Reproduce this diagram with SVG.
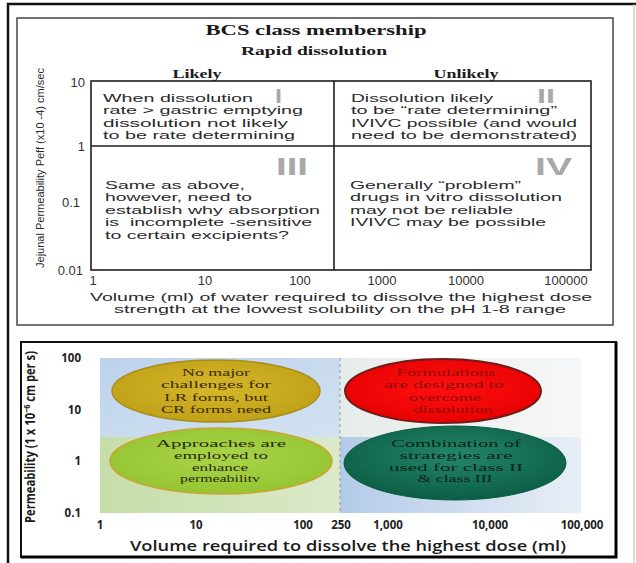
<svg xmlns="http://www.w3.org/2000/svg" width="636" height="563" viewBox="0 0 636 563">
<style>
.ser{font-family:"Liberation Serif","DejaVu Serif",serif;font-weight:bold;fill:#1a1a1a;text-anchor:middle}
.cell{font-family:"Liberation Sans",Arial,sans-serif;font-size:11px;fill:#2a2a2a}
.tick{font-family:"Liberation Sans",Arial,sans-serif;font-size:13px;fill:#333}
.rom{font-family:"Liberation Sans",Arial,sans-serif;font-weight:bold;fill:#a8a8a8}
.grid{fill:none;stroke:#1e1e1e;stroke-width:1.6}
.btick{font-family:"Open Sans","DejaVu Sans",sans-serif;font-weight:700;font-size:11.5px;fill:#222}
.ell{font-family:"Liberation Serif","DejaVu Serif",serif;font-size:11px;text-anchor:middle}
.ells{font-family:"Liberation Serif","DejaVu Serif",serif;font-size:10.5px;text-anchor:middle}
.ax{stroke:#222;stroke-width:1.5;fill:none}
</style>
<defs>
<linearGradient id="gTL" x1="0" y1="0" x2="1" y2="1"><stop offset="0" stop-color="#bcd2ec"/><stop offset="1" stop-color="#d3e2f1"/></linearGradient>
<linearGradient id="gTR" x1="0" y1="0" x2="1" y2="0"><stop offset="0" stop-color="#e6ece9"/><stop offset="1" stop-color="#f6f7f8"/></linearGradient>
<linearGradient id="gBL" x1="0" y1="0" x2="1" y2="0"><stop offset="0" stop-color="#c5dea9"/><stop offset="1" stop-color="#dbe9c9"/></linearGradient>
<linearGradient id="gBR" x1="0" y1="0" x2="1" y2="0"><stop offset="0" stop-color="#b3cbe8"/><stop offset="1" stop-color="#e9eff7"/></linearGradient>
<radialGradient id="eTL" cx="0.5" cy="0.45" r="0.6"><stop offset="0" stop-color="#d6b62a"/><stop offset="1" stop-color="#bf9f16"/></radialGradient>
<radialGradient id="eTR" cx="0.5" cy="0.45" r="0.6"><stop offset="0" stop-color="#ff1010"/><stop offset="1" stop-color="#e60000"/></radialGradient>
<radialGradient id="eBL" cx="0.5" cy="0.45" r="0.6"><stop offset="0" stop-color="#a9d448"/><stop offset="1" stop-color="#94c432"/></radialGradient>
<radialGradient id="eBR" cx="0.5" cy="0.4" r="0.6"><stop offset="0" stop-color="#24866a"/><stop offset="1" stop-color="#0b5e45"/></radialGradient>
<clipPath id="clipBL"><rect x="100" y="430" width="240" height="54"/></clipPath>
</defs>

<!-- outer frame -->
<path d="M8,563 V4 H636" fill="none" stroke="#111" stroke-width="2.5"/>
<line x1="634" y1="4" x2="634" y2="563" stroke="#bbb" stroke-width="1"/>

<!-- ===== Top panel ===== -->
<g id="top-panel">
<rect x="17" y="18" width="596" height="307" fill="#fff" stroke="#444" stroke-width="1.5"/>
<text class="ser" x="316" y="35" font-size="15" textLength="221" lengthAdjust="spacingAndGlyphs">BCS class membership</text>
<text class="ser" x="314" y="55" font-size="12.5" textLength="146" lengthAdjust="spacingAndGlyphs">Rapid dissolution</text>
<text class="ser" x="197" y="78" font-size="12" textLength="49" lengthAdjust="spacingAndGlyphs">Likely</text>
<text class="ser" x="466" y="78" font-size="12" textLength="65" lengthAdjust="spacingAndGlyphs">Unlikely</text>
</g>

<g id="connectors">
<rect class="grid" x="91" y="81" width="500" height="189"/>
<line class="grid" x1="91" y1="146" x2="591" y2="146"/>
<line class="grid" x1="334" y1="81" x2="334" y2="270"/>
<line class="ax" x1="100" y1="358" x2="100" y2="513"/>
<line class="ax" x1="100" y1="513" x2="581" y2="513"/>
<path class="ax" d="M88,358H100M88,410H100M88,461H100M88,513H100M100,513V520M387,513V520M581,508V520"/>
</g>

<g id="top-axes">
<text class="tick" x="85" y="86.5" text-anchor="end">10</text>
<text class="tick" x="85" y="150.5" text-anchor="end">1</text>
<text class="tick" x="80" y="206.5" text-anchor="end">0.1</text>
<text class="tick" x="83" y="274.5" text-anchor="end">0.01</text>
<text class="tick" x="93" y="285" text-anchor="middle">1</text>
<text class="tick" x="205" y="285" text-anchor="middle">10</text>
<text class="tick" x="300" y="285" text-anchor="middle">100</text>
<text class="tick" x="382" y="285" text-anchor="middle">1000</text>
<text class="tick" x="466" y="285" text-anchor="middle">10000</text>
<text class="tick" x="566" y="285" text-anchor="middle">100000</text>
<text class="cell" x="341" y="300.5" text-anchor="middle" textLength="502" lengthAdjust="spacingAndGlyphs">Volume (ml) of water required to dissolve the highest dose</text>
<text class="cell" x="340" y="313" text-anchor="middle" textLength="452" lengthAdjust="spacingAndGlyphs">strength at the lowest solubility on the pH 1-8 range</text>
<text class="cell" transform="translate(44,168) rotate(-90)" text-anchor="middle" font-size="12" textLength="200" lengthAdjust="spacingAndGlyphs">Jejunal Permeability Peff (x10 -4) cm/sec</text>
</g>

<g id="class-I">
<text class="rom" x="275" y="103" font-size="20" textLength="7" lengthAdjust="spacingAndGlyphs">I</text>
<text class="cell" x="103" y="102" textLength="150" lengthAdjust="spacingAndGlyphs">When dissolution</text>
<text class="cell" x="103" y="114.4" textLength="200" lengthAdjust="spacingAndGlyphs">rate &gt; gastric emptying</text>
<text class="cell" x="103" y="126.8" textLength="185" lengthAdjust="spacingAndGlyphs">dissolution not likely</text>
<text class="cell" x="103" y="139.2" textLength="192" lengthAdjust="spacingAndGlyphs">to be rate determining</text>
</g>
<g id="class-II">
<text class="rom" x="537" y="103" font-size="20" textLength="18" lengthAdjust="spacingAndGlyphs">II</text>
<text class="cell" x="351" y="102" textLength="142" lengthAdjust="spacingAndGlyphs">Dissolution likely</text>
<text class="cell" x="351" y="114.4" textLength="206" lengthAdjust="spacingAndGlyphs">to be “rate determining”</text>
<text class="cell" x="351" y="126.8" textLength="226" lengthAdjust="spacingAndGlyphs">IVIVC possible (and would</text>
<text class="cell" x="351" y="139.2" textLength="226" lengthAdjust="spacingAndGlyphs">need to be demonstrated)</text>
</g>
<g id="class-III">
<text class="rom" x="276" y="175" font-size="23" textLength="32" lengthAdjust="spacingAndGlyphs">III</text>
<text class="cell" x="105" y="189" textLength="140" lengthAdjust="spacingAndGlyphs">Same as above,</text>
<text class="cell" x="105" y="201.4" textLength="147" lengthAdjust="spacingAndGlyphs">however, need to</text>
<text class="cell" x="105" y="213.8" textLength="215" lengthAdjust="spacingAndGlyphs">establish why absorption</text>
<text class="cell" x="105" y="226.2" textLength="207" lengthAdjust="spacingAndGlyphs" xml:space="preserve">is  incomplete -sensitive</text>
<text class="cell" x="105" y="238.6" textLength="184" lengthAdjust="spacingAndGlyphs">to certain excipients?</text>
</g>
<g id="class-IV">
<text class="rom" x="535" y="175" font-size="23" textLength="37" lengthAdjust="spacingAndGlyphs">IV</text>
<text class="cell" x="350" y="189" textLength="171" lengthAdjust="spacingAndGlyphs">Generally “problem”</text>
<text class="cell" x="350" y="201.4" textLength="212" lengthAdjust="spacingAndGlyphs">drugs in vitro dissolution</text>
<text class="cell" x="350" y="213.8" textLength="163" lengthAdjust="spacingAndGlyphs">may not be reliable</text>
<text class="cell" x="350" y="226.2" textLength="196" lengthAdjust="spacingAndGlyphs">IVIVC may be possible</text>
</g>

<!-- ===== Bottom panel ===== -->
<g id="bottom-panel">
<rect x="21" y="342" width="595" height="215" fill="#fff" stroke="#111" stroke-width="2"/>
<path d="M616,342V557H21" fill="none" stroke="#000" stroke-width="3"/>
<rect x="100" y="358" width="240" height="79" fill="url(#gTL)"/>
<rect x="340" y="358" width="241" height="79" fill="url(#gTR)"/>
<rect x="100" y="437" width="240" height="76" fill="url(#gBL)"/>
<rect x="340" y="437" width="241" height="76" fill="url(#gBR)"/>
<line x1="340" y1="358" x2="340" y2="513" stroke="#9a9a9a" stroke-width="1" stroke-dasharray="3,3"/>
</g>

<g id="bottom-axes">
<text class="btick" x="81" y="362" text-anchor="end">100</text>
<text class="btick" x="81" y="414" text-anchor="end">10</text>
<text class="btick" x="81" y="465" text-anchor="end">1</text>
<text class="btick" x="81" y="517" text-anchor="end">0.1</text>
<text class="btick" x="100" y="529" text-anchor="middle">1</text>
<text class="btick" x="196" y="529" text-anchor="middle">10</text>
<text class="btick" x="303" y="529" text-anchor="middle">100</text>
<text class="btick" x="341" y="529" text-anchor="middle" font-weight="400">250</text>
<text class="btick" x="388" y="529" text-anchor="middle">1,000</text>
<text class="btick" x="490" y="529" text-anchor="middle">10,000</text>
<text class="btick" x="582" y="529" text-anchor="middle">100,000</text>
<text x="348" y="551" text-anchor="middle" font-family="'Open Sans','DejaVu Sans',sans-serif" font-weight="600" font-size="14.5" fill="#1a1a1a" textLength="436" lengthAdjust="spacingAndGlyphs">Volume required to dissolve the highest dose (ml)</text>
<text transform="translate(35,437) rotate(-90)" text-anchor="middle" font-family="'Open Sans','DejaVu Sans',sans-serif" font-weight="700" font-size="14" fill="#1a1a1a" textLength="172" lengthAdjust="spacingAndGlyphs">Permeability (1 x 10<tspan font-size="9" dy="-5">−6</tspan><tspan dy="5"> cm per s)</tspan></text>
</g>

<g id="ellipse-TL">
<ellipse cx="216" cy="391" rx="104" ry="31" fill="url(#eTL)" stroke="#a88f1c" stroke-width="1.5"/>
<text class="ell" fill="#3a2c05" x="216" y="376" textLength="68" lengthAdjust="spacingAndGlyphs">No major</text>
<text class="ell" fill="#3a2c05" x="216" y="388.4" textLength="110" lengthAdjust="spacingAndGlyphs">challenges for</text>
<text class="ell" fill="#3a2c05" x="216" y="400.8" textLength="104" lengthAdjust="spacingAndGlyphs">I.R forms, but</text>
<text class="ell" fill="#3a2c05" x="216" y="413.2" textLength="110" lengthAdjust="spacingAndGlyphs">CR forms need</text>
</g>
<g id="ellipse-TR">
<ellipse cx="443" cy="391" rx="98" ry="32" fill="url(#eTR)" stroke="#6e1c1c" stroke-width="2"/>
<text class="ell" fill="#8e0d0d" x="446" y="376" textLength="99" lengthAdjust="spacingAndGlyphs">Formulations</text>
<text class="ell" fill="#8e0d0d" x="444" y="388.4" textLength="120" lengthAdjust="spacingAndGlyphs">are designed to</text>
<text class="ell" fill="#8e0d0d" x="445" y="400.8" textLength="72" lengthAdjust="spacingAndGlyphs">overcome</text>
<text class="ell" fill="#8e0d0d" x="453" y="413.2" textLength="79" lengthAdjust="spacingAndGlyphs">dissolution</text>
</g>
<g id="ellipse-BL">
<ellipse cx="221" cy="461" rx="111" ry="33" fill="url(#eBL)" stroke="#c9a532" stroke-width="1.5"/>
<g clip-path="url(#clipBL)">
<text class="ells" fill="#2a2a10" x="221" y="447" textLength="130" lengthAdjust="spacingAndGlyphs">Approaches are</text>
<text class="ells" fill="#2a2a10" x="221" y="458.8" textLength="94" lengthAdjust="spacingAndGlyphs">employed to</text>
<text class="ells" fill="#2a2a10" x="220" y="470.6" textLength="56" lengthAdjust="spacingAndGlyphs">enhance</text>
<text class="ells" fill="#2a2a10" x="220" y="482.4" textLength="80" lengthAdjust="spacingAndGlyphs">permeabilitv</text>
</g>
</g>
<g id="ellipse-BR">
<ellipse cx="455" cy="463" rx="111" ry="37" fill="url(#eBR)" stroke="#0b5a42" stroke-width="1"/>
<text class="ells" fill="#0c2418" x="456" y="447" textLength="130" lengthAdjust="spacingAndGlyphs">Combination of</text>
<text class="ells" fill="#0c2418" x="456" y="458.8" textLength="113" lengthAdjust="spacingAndGlyphs">strategies are</text>
<text class="ells" fill="#0c2418" x="456" y="470.6" textLength="134" lengthAdjust="spacingAndGlyphs">used for class II</text>
<text class="ells" fill="#0c2418" x="455" y="482.4" textLength="75" lengthAdjust="spacingAndGlyphs">&amp; class III</text>
</g>
</svg>
